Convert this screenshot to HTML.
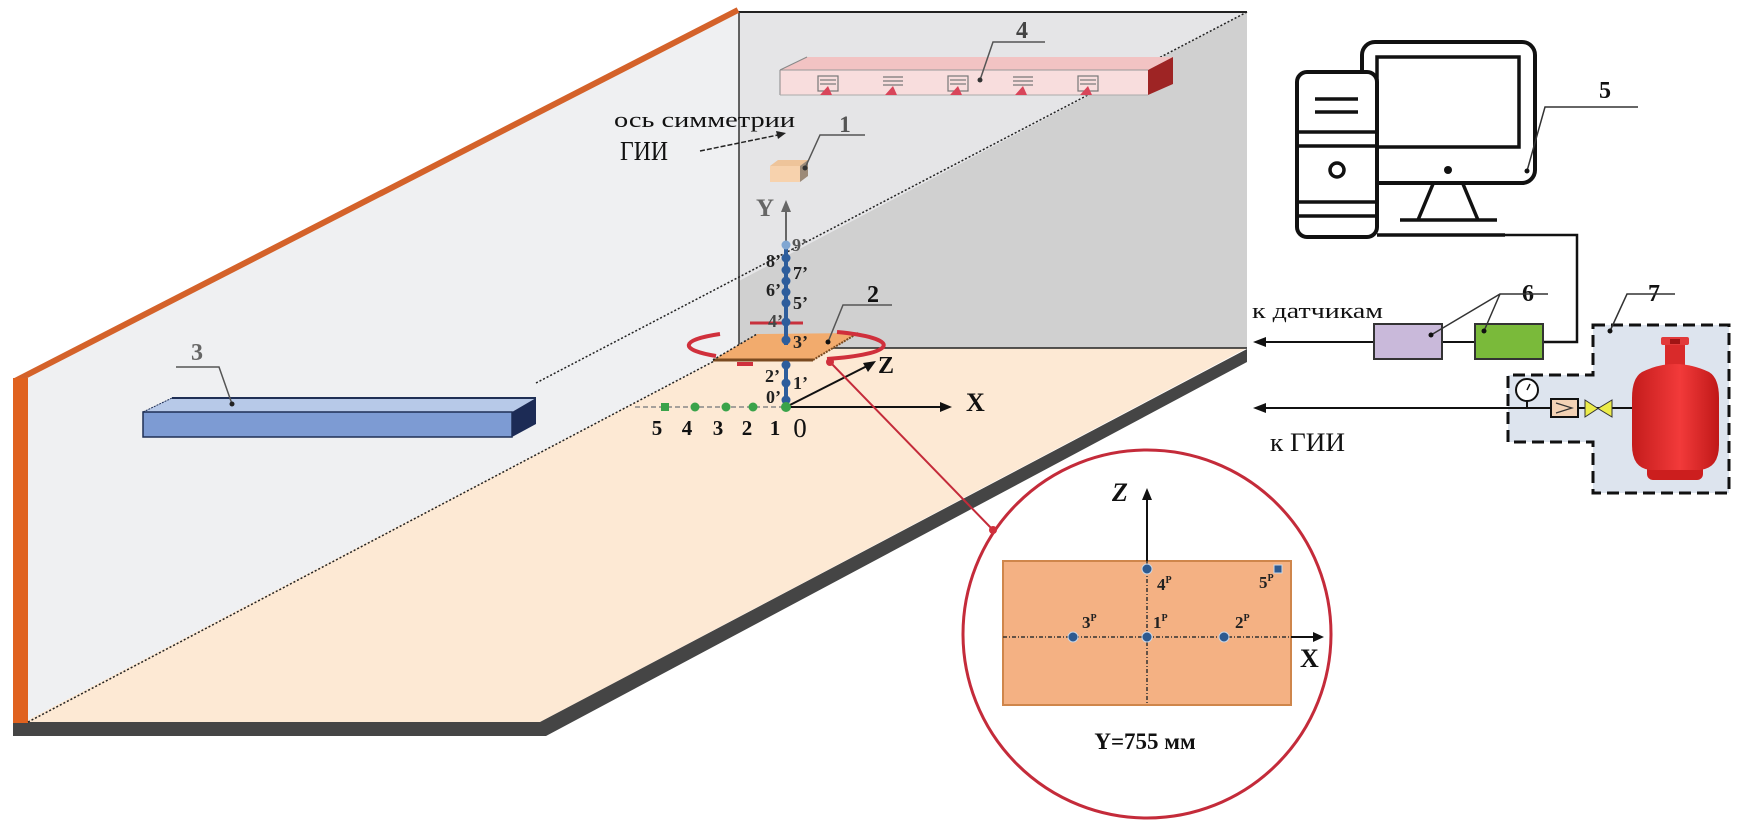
<!DOCTYPE html>
<html><head><meta charset="utf-8"><style>
html,body{margin:0;padding:0;background:#fff;}
svg{display:block;}
text{font-family:"Liberation Serif","DejaVu Serif",serif;}
</style></head><body>
<svg width="1746" height="823" viewBox="0 0 1746 823" xmlns="http://www.w3.org/2000/svg">
<defs>
<linearGradient id="cyl" x1="0" y1="0" x2="1" y2="0">
<stop offset="0" stop-color="#c41c1c"/><stop offset="0.55" stop-color="#f23a3a"/><stop offset="1" stop-color="#c01818"/>
</linearGradient>
</defs>
<rect x="0" y="0" width="1746" height="823" fill="#fff"/>

<!-- left wall -->
<polygon points="27,378 739,10 739,348 24,722" fill="#eff0f2"/>
<!-- floor -->
<polygon points="24,722 739,348 1247,348 540,722" fill="#fde9d4"/>
<!-- back wall -->
<rect x="739" y="12" width="508" height="336" fill="#e5e5e7"/>
<polygon points="739,281 1247,12 1247,348 739,348" fill="#d0d0d0"/>
<line x1="737" y1="12" x2="1247" y2="12" stroke="#222" stroke-width="2"/>
<line x1="739" y1="12" x2="739" y2="348" stroke="#333" stroke-width="1.5"/>
<line x1="739" y1="348" x2="1247" y2="348" stroke="#222" stroke-width="1.5"/>
<!-- dark bottom strip -->
<polygon points="13,722 540,722 1247,349 1247,362 546,736 13,736" fill="#454545"/>
<!-- orange edges -->
<line x1="15" y1="381" x2="738" y2="10" stroke="#d4622a" stroke-width="6"/>
<rect x="13" y="378" width="15" height="345" fill="#e0621f"/>
<!-- dotted lines -->
<line x1="536" y1="383" x2="1247" y2="12" stroke="#222" stroke-width="1.5" stroke-dasharray="2 2"/>
<line x1="28" y1="722" x2="739" y2="348" stroke="#222" stroke-width="1.5" stroke-dasharray="2 2"/>

<!-- heater 4 -->
<polygon points="780,70 807,57 1173,57 1148,70" fill="#f2c3c3"/>
<rect x="780" y="70" width="368" height="25" fill="#f8dddd"/>
<line x1="780" y1="70" x2="1148" y2="70" stroke="#999" stroke-width="1"/>
<line x1="780" y1="70" x2="780" y2="95" stroke="#888" stroke-width="1"/>
<line x1="780" y1="95" x2="1148" y2="95" stroke="#aaa" stroke-width="1"/>
<line x1="780" y1="70" x2="807" y2="57" stroke="#888" stroke-width="1"/>
<polygon points="1148,70 1173,57 1173,84 1148,95" fill="#9e2424"/>
<g stroke="#777" stroke-width="1.2" fill="none">
<rect x="818" y="76" width="20" height="15"/><line x1="820" y1="80" x2="836" y2="80"/><line x1="820" y1="84" x2="836" y2="84"/>
<line x1="883" y1="77" x2="903" y2="77"/><line x1="883" y1="81" x2="903" y2="81"/><line x1="883" y1="85" x2="903" y2="85"/>
<rect x="948" y="76" width="20" height="15"/><line x1="950" y1="80" x2="966" y2="80"/><line x1="950" y1="84" x2="966" y2="84"/>
<line x1="1013" y1="77" x2="1033" y2="77"/><line x1="1013" y1="81" x2="1033" y2="81"/><line x1="1013" y1="85" x2="1033" y2="85"/>
<rect x="1078" y="76" width="20" height="15"/><line x1="1080" y1="80" x2="1096" y2="80"/><line x1="1080" y1="84" x2="1096" y2="84"/>
</g>
<g fill="#d8455a">
<polygon points="820,95 828,86 832,95"/><polygon points="885,95 893,86 897,95"/><polygon points="950,95 958,86 962,95"/><polygon points="1015,95 1023,86 1027,95"/><polygon points="1080,95 1088,86 1092,95"/>
</g>
<text x="1022" y="38" font-size="24" font-weight="bold" fill="#444" text-anchor="middle">4</text>
<polyline points="1045,42 993,42 980,80" fill="none" stroke="#555" stroke-width="1.5"/>
<circle cx="980" cy="80" r="2.5" fill="#333"/>

<!-- symmetry text -->
<text x="614" y="127" font-size="22" fill="#111" textLength="181" lengthAdjust="spacingAndGlyphs">ось симметрии</text>
<text x="620" y="160" font-size="27" fill="#111" textLength="48" lengthAdjust="spacingAndGlyphs">ГИИ</text>
<line x1="700" y1="151" x2="778" y2="135" stroke="#222" stroke-width="1.5" stroke-dasharray="5 2"/>
<polygon points="786,133 776,131 778,139" fill="#222"/>

<!-- box 1 -->
<polygon points="770,166 778,160 808,160 800,166" fill="#eec49a"/>
<rect x="770" y="166" width="30" height="16" fill="#f7d2ad"/>
<polygon points="800,166 808,160 808,176 800,182" fill="#9c8a78"/>
<text x="845" y="132" font-size="23" font-weight="bold" fill="#555" text-anchor="middle">1</text>
<polyline points="865,135 820,135 805,168" fill="none" stroke="#555" stroke-width="1.5"/>
<circle cx="805" cy="168" r="2.5" fill="#333"/>

<!-- bar 3 -->
<polygon points="143,412 172,398 536,398 512,412" fill="#b7c9e8"/>
<rect x="143" y="412" width="369" height="25" fill="#7d9bd3" stroke="#1f2f55" stroke-width="1.5"/>
<polygon points="512,412 536,398 536,424 512,437" fill="#1c2b55"/>
<line x1="172" y1="398" x2="536" y2="398" stroke="#1f2f55" stroke-width="2"/>
<line x1="143" y1="412" x2="172" y2="398" stroke="#1f2f55" stroke-width="1" stroke-dasharray="2 1"/>
<text x="197" y="360" font-size="24" font-weight="bold" fill="#666" text-anchor="middle">3</text>
<polyline points="176,367 219,367 232,404" fill="none" stroke="#555" stroke-width="1.5"/>
<circle cx="232" cy="404" r="2.5" fill="#222"/>

<!-- platform 2 -->
<polygon points="713,360 757,334 858,333 813,360" fill="#f2ab6d"/>
<line x1="713" y1="360" x2="813" y2="360" stroke="#7a4a20" stroke-width="3"/>
<line x1="813" y1="360" x2="858" y2="333" stroke="#7a4a20" stroke-width="2" stroke-dasharray="2 1"/>
<line x1="713" y1="360" x2="757" y2="334" stroke="#222" stroke-width="1.5" stroke-dasharray="2 2"/>
<text x="873" y="302" font-size="24" font-weight="bold" fill="#111" text-anchor="middle">2</text>
<polyline points="892,305 843,305 828,342" fill="none" stroke="#555" stroke-width="1.5"/>
<circle cx="828" cy="342" r="2.5" fill="#111"/>

<!-- red rotation -->
<path d="M720,334 A91,15 0 0 0 716,356" fill="none" stroke="#d0303c" stroke-width="4"/>
<path d="M837,332 A91,15 0 0 1 827,359" fill="none" stroke="#d0303c" stroke-width="4"/>
<line x1="737" y1="364" x2="753" y2="364" stroke="#d0303c" stroke-width="4"/>
<line x1="750" y1="323" x2="803" y2="323" stroke="#c8303c" stroke-width="3"/>

<!-- Y axis -->
<line x1="786" y1="245" x2="786" y2="208" stroke="#666" stroke-width="2"/>
<polygon points="786,200 781,212 791,212" fill="#666"/>
<text x="756" y="216" font-size="25" font-weight="bold" fill="#666">Y</text>
<line x1="786" y1="245" x2="786" y2="345" stroke="#2d5d9c" stroke-width="4"/>
<line x1="786" y1="362" x2="786" y2="407" stroke="#2d5d9c" stroke-width="4"/>
<circle cx="786" cy="245" r="4.5" fill="#80a6d2"/>
<g fill="#2d5d9c">
<circle cx="786" cy="258" r="4.5"/><circle cx="786" cy="270" r="4.5"/><circle cx="786" cy="281" r="4.5"/><circle cx="786" cy="292" r="4.5"/><circle cx="786" cy="303" r="4.5"/><circle cx="786" cy="322" r="4.5"/><circle cx="786" cy="340" r="4.5"/><circle cx="786" cy="365" r="4.5"/><circle cx="786" cy="383" r="4.5"/><circle cx="786" cy="400" r="4.5"/>
</g>
<g font-size="18" font-weight="bold" fill="#222">
<text x="792" y="251" fill="#555">9’</text>
<text x="781" y="267" text-anchor="end">8’</text>
<text x="793" y="279">7’</text>
<text x="781" y="296" text-anchor="end">6’</text>
<text x="793" y="309">5’</text>
<text x="783" y="327" text-anchor="end" fill="#444">4’</text>
<text x="793" y="348">3’</text>
<text x="780" y="382" text-anchor="end">2’</text>
<text x="793" y="389">1’</text>
<text x="781" y="403" text-anchor="end">0’</text>
</g>

<!-- X / Z axes -->
<line x1="635" y1="407" x2="786" y2="407" stroke="#888" stroke-width="1.5" stroke-dasharray="5 3"/>
<line x1="786" y1="407" x2="944" y2="407" stroke="#111" stroke-width="2"/>
<polygon points="952,407 940,402 940,412" fill="#111"/>
<text x="966" y="411" font-size="26" font-weight="bold" fill="#111">X</text>
<line x1="786" y1="407" x2="869" y2="365" stroke="#111" stroke-width="2"/>
<polygon points="876,361 863,363 868,372" fill="#111"/>
<text x="878" y="373" font-size="24" font-weight="bold" fill="#111">Z</text>
<rect x="661" y="403" width="8" height="8" fill="#3aa34a"/>
<g fill="#3aa34a"><circle cx="695" cy="407" r="4.5"/><circle cx="726" cy="407" r="4.5"/><circle cx="753" cy="407" r="4.5"/><circle cx="786" cy="407" r="5"/></g>
<g font-size="21" font-weight="bold" fill="#111" text-anchor="middle">
<text x="657" y="435">5</text><text x="687" y="435">4</text><text x="718" y="435">3</text><text x="747" y="435">2</text><text x="775" y="435">1</text>
</g>
<text x="800" y="437" font-size="27" fill="#111" text-anchor="middle">0</text>

<!-- red connector -->
<line x1="830" y1="362" x2="993" y2="530" stroke="#c42b3a" stroke-width="2"/>
<circle cx="830" cy="362" r="4" fill="#d0303c"/>

<!-- inset circle -->
<circle cx="1147" cy="634" r="184" fill="#fff" stroke="#c42b3a" stroke-width="3"/>
<circle cx="993" cy="530" r="4" fill="#d0303c"/>
<rect x="1003" y="561" width="288" height="144" fill="#f4b183" stroke="#cf864b" stroke-width="2"/>
<line x1="1003" y1="637" x2="1291" y2="637" stroke="#333" stroke-width="1.5" stroke-dasharray="4 2 1 2"/>
<line x1="1147" y1="561" x2="1147" y2="705" stroke="#333" stroke-width="1.5" stroke-dasharray="4 2 1 2"/>
<line x1="1291" y1="637" x2="1316" y2="637" stroke="#111" stroke-width="2"/>
<polygon points="1324,637 1313,632 1313,642" fill="#111"/>
<text x="1300" y="667" font-size="26" font-weight="bold" fill="#111">X</text>
<line x1="1147" y1="561" x2="1147" y2="496" stroke="#111" stroke-width="2"/>
<polygon points="1147,488 1142,500 1152,500" fill="#111"/>
<text x="1112" y="501" font-size="26" font-weight="bold" font-style="italic" fill="#111">Z</text>
<g fill="#2e5a90" stroke="#c9d6e6" stroke-width="1">
<circle cx="1147" cy="569" r="5"/><circle cx="1147" cy="637" r="5"/><circle cx="1224" cy="637" r="5"/><circle cx="1073" cy="637" r="5"/><rect x="1274" y="565" width="8" height="8"/>
</g>
<g font-size="17" font-weight="bold" fill="#222">
<text x="1157" y="590">4<tspan font-size="10" dy="-7">Р</tspan></text>
<text x="1153" y="628">1<tspan font-size="10" dy="-7">Р</tspan></text>
<text x="1235" y="628">2<tspan font-size="10" dy="-7">Р</tspan></text>
<text x="1082" y="628">3<tspan font-size="10" dy="-7">Р</tspan></text>
<text x="1259" y="588">5<tspan font-size="10" dy="-7">Р</tspan></text>
</g>
<text x="1145" y="749" font-size="23" font-weight="bold" fill="#111" text-anchor="middle">Y=755 мм</text>

<!-- computer 5 -->
<rect x="1362" y="42" width="173" height="141" rx="13" fill="#fff" stroke="#111" stroke-width="4"/>
<rect x="1377" y="57" width="142" height="90" fill="#fff" stroke="#111" stroke-width="3.5"/>
<circle cx="1448" cy="170" r="4" fill="#111"/>
<line x1="1433" y1="184" x2="1418" y2="220" stroke="#111" stroke-width="3.5"/>
<line x1="1463" y1="184" x2="1478" y2="220" stroke="#111" stroke-width="3.5"/>
<line x1="1400" y1="220" x2="1497" y2="220" stroke="#111" stroke-width="3.5"/>
<rect x="1297" y="72" width="80" height="165" rx="10" fill="#fff" stroke="#111" stroke-width="4"/>
<g stroke="#111" stroke-width="3.5">
<line x1="1315" y1="99" x2="1358" y2="99"/><line x1="1315" y1="112" x2="1358" y2="112"/>
<line x1="1297" y1="132" x2="1377" y2="132"/><line x1="1297" y1="146" x2="1377" y2="146"/>
<line x1="1297" y1="202" x2="1377" y2="202"/><line x1="1297" y1="216" x2="1377" y2="216"/>
</g>
<circle cx="1337" cy="170" r="7" fill="none" stroke="#111" stroke-width="3.5"/>
<line x1="1377" y1="235" x2="1505" y2="235" stroke="#111" stroke-width="3.5"/>
<polyline points="1505,235 1577,235 1577,342 1543,342" fill="none" stroke="#111" stroke-width="2.5"/>
<text x="1605" y="98" font-size="24" font-weight="bold" fill="#111" text-anchor="middle">5</text>
<polyline points="1638,107 1545,107 1527,171" fill="none" stroke="#333" stroke-width="1.5"/>
<circle cx="1527" cy="171" r="2.5" fill="#111"/>

<!-- boxes 6 -->
<line x1="1262" y1="342" x2="1374" y2="342" stroke="#111" stroke-width="2"/>
<polygon points="1253,342 1266,337 1266,347" fill="#111"/>
<line x1="1442" y1="342" x2="1475" y2="342" stroke="#111" stroke-width="2"/>
<rect x="1374" y="324" width="68" height="35" fill="#c9b9da" stroke="#333" stroke-width="2"/>
<rect x="1475" y="324" width="68" height="35" fill="#7aba3a" stroke="#333" stroke-width="2"/>
<text x="1252" y="318" font-size="22" fill="#111" textLength="131" lengthAdjust="spacingAndGlyphs">к датчикам</text>
<text x="1528" y="301" font-size="24" font-weight="bold" fill="#111" text-anchor="middle">6</text>
<polyline points="1548,294 1500,294 1431,335" fill="none" stroke="#333" stroke-width="1.5"/>
<line x1="1500" y1="294" x2="1484" y2="331" stroke="#333" stroke-width="1.5"/>
<circle cx="1431" cy="335" r="2.5" fill="#111"/><circle cx="1484" cy="331" r="2.5" fill="#111"/>

<!-- box 7 -->
<polygon points="1593,325 1729,325 1729,493 1593,493 1593,442 1508,442 1508,375 1593,375" fill="#dde4ee" stroke="#111" stroke-width="3" stroke-dasharray="12 6"/>
<line x1="1262" y1="408" x2="1632" y2="408" stroke="#111" stroke-width="2"/>
<polygon points="1253,408 1266,403 1266,413" fill="#111"/>
<text x="1270" y="451" font-size="26" fill="#111" textLength="75" lengthAdjust="spacingAndGlyphs">к ГИИ</text>
<line x1="1527" y1="401" x2="1527" y2="408" stroke="#111" stroke-width="2"/>
<circle cx="1527" cy="390" r="11" fill="#fff" stroke="#111" stroke-width="2"/>
<line x1="1527" y1="390" x2="1530" y2="384" stroke="#111" stroke-width="1.5"/>
<rect x="1551" y="399" width="27" height="18" fill="#f3d2b5" stroke="#111" stroke-width="2"/>
<polyline points="1556,403 1572,408 1556,413" fill="none" stroke="#333" stroke-width="1.2"/>
<polygon points="1585,400 1585,417 1598,408.5" fill="#ecec4a" stroke="#333" stroke-width="1"/>
<polygon points="1612,400 1612,417 1598,408.5" fill="#ecec4a" stroke="#333" stroke-width="1"/>
<rect x="1661" y="337" width="28" height="8" rx="2" fill="#e23a3a"/>
<rect x="1665" y="345" width="20" height="24" fill="#d92a2a"/>
<rect x="1670" y="339" width="10" height="5" fill="#a01414"/>
<rect x="1647" y="458" width="56" height="22" rx="6" fill="#cc1e1e"/>
<path d="M1642,372 Q1632,378 1632,398 L1632,445 Q1632,468 1650,470 L1700,470 Q1719,468 1719,445 L1719,398 Q1719,378 1709,372 Q1692,364 1675,364 Q1658,364 1642,372 Z" fill="url(#cyl)"/>
<text x="1654" y="301" font-size="24" font-weight="bold" fill="#111" text-anchor="middle">7</text>
<polyline points="1675,294 1627,294 1610,331" fill="none" stroke="#333" stroke-width="1.5"/>
<circle cx="1610" cy="331" r="2.5" fill="#111"/>
</svg>
</body></html>
